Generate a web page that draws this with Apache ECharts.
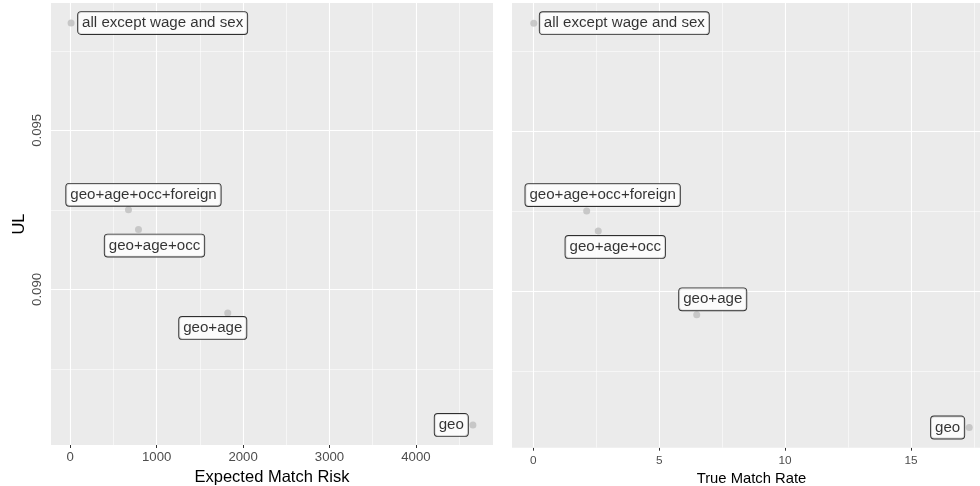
<!DOCTYPE html>
<html>
<head>
<meta charset="utf-8">
<script src="https://cdn.jsdelivr.net/npm/echarts@6/dist/echarts.min.js"></script>
<style>
html,body{margin:0;padding:0;background:#fff;}
#chart{width:980px;height:486px;}
</style>
</head>
<body>
<div id="chart"></div>
<script>
// ---- data ----
const categories = ['all except wage and sex', 'geo+age+occ+foreign', 'geo+age+occ', 'geo+age', 'geo'];
const expectedMatchRisk = [10, 674, 790, 1823, 4660];
const trueMatchRate = [0.02, 2.12, 2.58, 6.49, 17.31];
const ulValues = [0.09837, 0.0925, 0.09188, 0.08926, 0.08574];
const riskTicks = [0, 1000, 2000, 3000, 4000];
const riskMinor = [500, 1500, 2500, 3500, 4500];
const rateTicks = [0, 5, 10, 15];
const rateMinor = [2.5, 7.5, 12.5, 17.5];
const ulTicks = [0.090, 0.095];
const ulMinor = [0.0875, 0.0925, 0.0975];

// ---- label placement (style) ----
const leftLabelPlace = [
  {position: 'right', distance: 3.5},
  {position: 'inside', offset: [15, -15]},
  {position: 'inside', offset: [16, 16]},
  {position: 'inside', offset: [-15, 15]},
  {position: 'left', distance: 1.5}
];
const rightLabelPlace = [
  {position: 'right', distance: 2.5},
  {position: 'inside', offset: [16, -16]},
  {position: 'inside', offset: [17, 16]},
  {position: 'inside', offset: [16, -15.5]},
  {position: 'left', distance: 1.5}
];

function expand(arr) {
  const lo = Math.min(...arr), hi = Math.max(...arr), r = hi - lo;
  return [lo - 0.05 * r, hi + 0.05 * r];
}
const riskRange = expand(expectedMatchRisk);
const rateRange = expand(trueMatchRate);
const ulRange = expand(ulValues);

const FONT = '"Liberation Sans", Arial, Helvetica, sans-serif';
const labelBox = {
  show: true, formatter: '{b}', fontFamily: FONT, fontSize: 15.1, color: '#000',
  backgroundColor: '#fff', borderColor: '#000', borderWidth: 0.9, borderRadius: 3,
  padding: [3.5, 4, 2.5, 4], lineHeight: 16, textBorderWidth: 0
};

function points(xs, place) {
  return categories.map((c, i) => ({
    name: c, value: [xs[i], ulValues[i]],
    label: Object.assign({}, labelBox, place[i])
  }));
}
function gridLines(xr, yr, xMaj, xMin, yMaj, yMin) {
  const d = [];
  const v = (x, w) => [{coord: [x, yr[0]], lineStyle: {width: w}}, {coord: [x, yr[1]]}];
  const h = (y, w) => [{coord: [xr[0], y], lineStyle: {width: w}}, {coord: [xr[1], y]}];
  xMin.forEach(x => d.push(v(x, 0.55)));
  yMin.forEach(y => d.push(h(y, 0.55)));
  xMaj.forEach(x => d.push(v(x, 1.1)));
  yMaj.forEach(y => d.push(h(y, 1.1)));
  return d;
}
const markBase = {silent: true, symbol: ['none', 'none'], label: {show: false}, animation: false,
  lineStyle: {color: '#fff', type: 'solid'}, emphasis: {disabled: true}};

const chart = echarts.init(document.getElementById('chart'), null, {renderer: 'canvas'});
chart.setOption({
  animation: false,
  backgroundColor: '#fff',
  grid: [
    {left: 51, top: 3, width: 442, height: 442, show: true, backgroundColor: '#EBEBEB', borderWidth: 0,
     containLabel: false, outerBoundsMode: 'none'},
    {left: 512, top: 3, width: 479, height: 444.7, show: true, backgroundColor: '#EBEBEB', borderWidth: 0,
     containLabel: false, outerBoundsMode: 'none'}
  ],
  xAxis: [
    {gridIndex: 0, type: 'value', min: riskRange[0], max: riskRange[1],
     name: 'Expected Match Risk', nameLocation: 'middle', nameGap: 22,
     nameTextStyle: {color: '#000', fontSize: 16.5, fontFamily: FONT},
     axisLine: {show: false}, splitLine: {show: false},
     axisTick: {show: true, length: 3, lineStyle: {color: '#333', width: 1}, customValues: riskTicks},
     axisLabel: {color: '#4D4D4D', fontSize: 13.2, fontFamily: FONT, margin: 6, customValues: riskTicks,
       formatter: v => String(v)}},
    {gridIndex: 1, type: 'value', min: rateRange[0], max: rateRange[1],
     name: 'True Match Rate', nameLocation: 'middle', nameGap: 21,
     nameTextStyle: {color: '#000', fontSize: 14.8, fontFamily: FONT},
     axisLine: {show: false}, splitLine: {show: false},
     axisTick: {show: true, length: 3, lineStyle: {color: '#333', width: 1}, customValues: rateTicks},
     axisLabel: {color: '#4D4D4D', fontSize: 11.8, fontFamily: FONT, margin: 7, customValues: rateTicks,
       formatter: v => String(v)}}
  ],
  yAxis: [
    {gridIndex: 0, type: 'value', min: ulRange[0], max: ulRange[1],
     name: 'UL', nameLocation: 'middle', nameGap: 23,
     nameTextStyle: {color: '#000', fontSize: 16.5, fontFamily: FONT},
     axisLine: {show: false}, splitLine: {show: false},
     axisTick: {show: true, length: 3, lineStyle: {color: '#333', width: 1}, customValues: ulTicks},
     axisLabel: {color: '#4D4D4D', fontSize: 13.2, fontFamily: FONT, margin: 7, rotate: 90,
       customValues: ulTicks, formatter: v => v.toFixed(3)}},
    {gridIndex: 1, type: 'value', min: ulRange[0], max: ulRange[1],
     axisLine: {show: false}, splitLine: {show: false},
     axisTick: {show: false}, axisLabel: {show: false}}
  ],
  series: [
    {type: 'scatter', xAxisIndex: 0, yAxisIndex: 0, data: [], z: 1,
     markLine: Object.assign({}, markBase, {data: gridLines(riskRange, ulRange, riskTicks, riskMinor, ulTicks, ulMinor)})},
    {type: 'scatter', xAxisIndex: 1, yAxisIndex: 1, data: [], z: 1,
     markLine: Object.assign({}, markBase, {data: gridLines(rateRange, ulRange, rateTicks, rateMinor, ulTicks, ulMinor)})},
    {type: 'scatter', xAxisIndex: 0, yAxisIndex: 0, z: 5, symbolSize: 7,
     itemStyle: {color: '#BEBEBE'}, emphasis: {disabled: true},
     data: points(expectedMatchRisk, leftLabelPlace)},
    {type: 'scatter', xAxisIndex: 1, yAxisIndex: 1, z: 5, symbolSize: 7,
     itemStyle: {color: '#BEBEBE'}, emphasis: {disabled: true},
     data: points(trueMatchRate, rightLabelPlace)}
  ]
});
</script>
</body>
</html>
